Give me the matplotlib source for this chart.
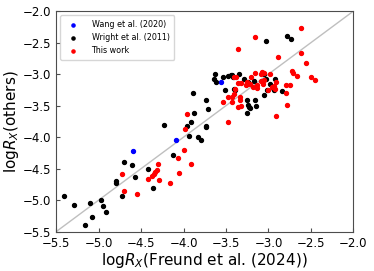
import matplotlib
matplotlib.use("Agg")
import matplotlib.pyplot as plt

# logR_X values: (Freund et al. 2024, others)
wang_x = [-4.59, -4.09, -3.56]
wang_y = [-4.22, -4.05, -3.12]

wright_x = [-5.41, -5.29, -5.10, -5.08, -5.155, -4.975, -4.947, -4.915, -4.72, -4.794,
            -4.80, -4.70, -4.61, -4.57, -4.418, -4.355, -4.127,
            -4.233, -3.962, -3.912, -3.88, -3.73, -3.93, -3.833, -3.80, -3.71,
            -3.73, -3.89, -3.512, -3.73,
            -3.63, -3.645, -3.62, -3.535, -3.473, -3.445, -3.426, -3.414, -3.35,
            -3.41, -3.394, -3.285, -3.238, -3.253, -3.174, -3.056, -3.03,
            -2.98, -2.947, -2.93, -2.838, -3.018, -3.056, -2.92,
            -3.253, -3.159, -3.245, -3.214, -3.144, -3.23, -3.253,
            -3.03, -2.78, -2.74]
wright_y = [-4.94, -5.07, -5.04, -5.26, -5.40, -5.00, -5.09, -5.18, -4.94, -4.70,
            -4.73, -4.40, -4.44, -4.63, -4.50, -4.80, -4.286,
            -3.80, -3.82, -3.757, -3.61, -3.836, -3.98, -3.995, -4.043, -3.556,
            -3.41, -3.30, -3.25, -3.83,
            -2.995, -3.08, -3.13, -3.05, -3.03, -3.016, -3.01, -3.043, -2.99,
            -3.23, -3.254, -3.08, -3.12, -3.16, -3.106, -2.99, -3.07,
            -3.16, -3.227, -3.254, -3.265, -3.254, -3.338, -3.075,
            -3.41, -3.41, -3.487, -3.53, -3.508, -3.52, -3.614,
            -2.47, -2.39, -2.44]

this_x = [-4.727, -4.70, -4.547, -4.30, -4.315, -4.33, -4.35, -4.37, -4.42, -4.285,
          -4.155, -4.053, -4.065, -3.994, -3.915,
          -3.962, -3.98, -3.48, -3.535, -3.473, -3.433, -3.40, -3.426, -3.33,
          -3.363, -3.324, -3.394,
          -2.618, -3.163, -3.363, -2.618, -2.892, -2.559, -2.727, -2.712, -2.665,
          -2.50, -2.457, -3.073, -3.159, -2.979, -2.79, -2.75, -2.794, -2.786, -2.912,
          -3.206, -3.05, -3.088, -3.065, -3.382, -3.41, -3.363, -3.324, -3.253,
          -3.22, -3.26, -3.18, -3.14, -2.932, -2.92, -2.908, -3.003, -3.34,
          -3.135, -2.959, -3.088, -3.05]
this_y = [-4.58, -4.857, -4.894, -4.43, -4.52, -4.547, -4.59, -4.61, -4.667, -4.68,
          -4.72, -4.567, -4.33, -4.20, -4.43,
          -3.64, -3.878, -3.76, -3.44, -3.37, -3.36, -3.31, -3.44, -3.41,
          -3.52, -3.508, -3.243,
          -2.275, -2.41, -2.60, -2.66, -2.735, -2.82, -2.95, -2.98, -3.03,
          -3.05, -3.095, -2.96, -2.98, -3.005, -3.175, -3.175, -3.30, -3.49, -3.667,
          -3.05, -3.095, -3.116, -3.16, -3.043, -3.05, -3.14, -3.14, -3.127,
          -3.15, -3.18, -3.21, -3.227, -3.19, -3.243, -3.127, -3.254, -3.37,
          -3.175, -3.20, -3.0, -2.98]

lims = (-5.5, -2.0)
ticks = [-5.5, -5.0, -4.5, -4.0, -3.5, -3.0, -2.5, -2.0]

fig = plt.figure(figsize=(3.74, 2.71), dpi=100)
ax = fig.add_axes([0.150, 0.145, 0.795, 0.814])

ax.plot(lims, lims, color="0.75", lw=1.0, zorder=1)
ax.scatter(wang_x, wang_y, s=8, color="blue", label="Wang et al. (2020)", zorder=3)
ax.scatter(wright_x, wright_y, s=8, color="black", label="Wright et al. (2011)", zorder=2)
ax.scatter(this_x, this_y, s=8, color="red", label="This work", zorder=2)

ax.set_xlim(*lims)
ax.set_ylim(*lims)
ax.set_xticks(ticks)
ax.set_yticks(ticks)
ax.tick_params(direction="in", labelsize=8.5, length=3, width=0.8, color="0.3")
for sp in ax.spines.values():
    sp.set_color("0.3")

ax.set_xlabel("log$R_X$(Freund et al. (2024))", fontsize=11, labelpad=1)
ax.set_ylabel("log$R_X$(others)", fontsize=11, labelpad=1)
ax.legend(loc="upper left", fontsize=5.8, framealpha=0.8, handletextpad=1.3,
          borderpad=0.6, markerscale=0.8)

fig.savefig("out.png", dpi=100)
